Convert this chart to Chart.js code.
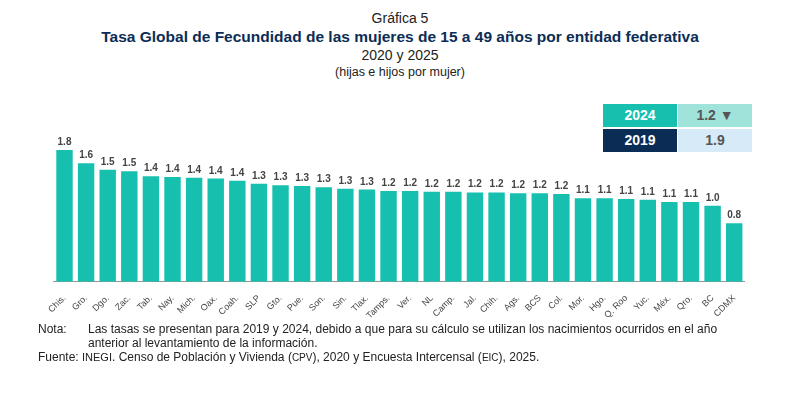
<!DOCTYPE html>
<html><head><meta charset="utf-8">
<script src="https://cdn.jsdelivr.net/npm/chart.js@4"></script>
<style>
body{margin:0;width:800px;height:400px;background:#fff;font-family:"Liberation Sans",Arial,sans-serif;position:relative;overflow:hidden}
.t{position:absolute;left:0;width:800px;text-align:center;color:#222}
#wrap{position:absolute;left:47px;top:128px;width:698px;height:196px}
.box{position:absolute;font-weight:bold;font-size:14px;text-align:center;line-height:23px;height:23px}
.note{position:absolute;font-size:12px;color:#222}
</style></head><body>
<div class="t" style="top:10px;font-size:14px">Gráfica 5</div>
<div class="t" style="top:28px;font-size:15.5px;font-weight:bold;color:#0b2d55">Tasa Global de Fecundidad de las mujeres de 15 a 49 años por entidad federativa</div>
<div class="t" style="top:47px;font-size:14px">2020 y 2025</div>
<div class="t" style="top:65px;font-size:12.5px">(hijas e hijos por mujer)</div>
<div class="box" style="left:603px;top:104px;width:74px;background:#17bfae;color:#fff">2024</div>
<div class="box" style="left:678px;top:104px;width:74px;background:#9fe3db;color:#555">1.2 ▼</div>
<div class="box" style="left:603px;top:129px;width:74px;background:#0b2d55;color:#fff">2019</div>
<div class="box" style="left:678px;top:129px;width:74px;background:#d6ebf7;color:#555">1.9</div>
<div id="wrap"><canvas id="c"></canvas></div>
<div class="note" style="left:38px;top:322px">Nota:</div>
<div class="note" style="left:88px;top:322px;width:665px;line-height:14px">Las tasas se presentan para 2019 y 2024, debido a que para su cálculo se utilizan los nacimientos ocurridos en el año anterior al levantamiento de la información.</div>
<div class="note" style="left:38px;top:350px">Fuente: <span style="font-size:11px">INEGI</span>. Censo de Población y Vivienda (<span style="font-size:10px">CPV</span>), 2020 y Encuesta Intercensal (<span style="font-size:10px">EIC</span>), 2025.</div>
<script>
const states = ["Chis.","Gro.","Dgo.","Zac.","Tab.","Nay.","Mich.","Oax.","Coah.","SLP","Gto.","Pue.","Son.","Sin.","Tlax.","Tamps.","Ver.","NL","Camp.","Jal.","Chih.","Ags.","BCS","Col.","Mor.","Hgo.","Q. Roo","Yuc.","Méx.","Qro.","BC","CDMX"];
const rates = [1.80,1.62,1.53,1.51,1.44,1.43,1.42,1.41,1.38,1.34,1.32,1.31,1.29,1.27,1.26,1.24,1.24,1.23,1.23,1.22,1.22,1.21,1.21,1.20,1.14,1.14,1.13,1.12,1.09,1.09,1.04,0.80];

const valueLabels = {
  id: "valueLabels",
  afterDatasetsDraw(chart) {
    const ctx = chart.ctx;
    ctx.save();
    ctx.font = "bold 10px 'Liberation Sans', Arial";
    ctx.fillStyle = "#444";
    ctx.textAlign = "center";
    chart.getDatasetMeta(0).data.forEach((bar, i) => {
      ctx.fillText(rates[i].toFixed(1), bar.x, bar.y - 5);
    });
    ctx.restore();
  }
};

new Chart("c", {
  type: "bar",
  data: { labels: states, datasets: [{ data: rates, backgroundColor: "#17bfae", barPercentage: 0.76, categoryPercentage: 1 }] },
  options: {
    responsive: true, maintainAspectRatio: false, animation: false,
    layout: { padding: { top: 22 } },
    plugins: { legend: { display: false }, tooltip: { enabled: false } },
    scales: {
      x: { grid: { display: false }, border: { color: "#999" },
           ticks: { color: "#444", font: { size: 9, family: "'Liberation Sans', Arial" }, maxRotation: 45, minRotation: 45, autoSkip: false } },
      y: { display: false, min: 0, max: 1.8 }
    }
  },
  plugins: [valueLabels]
});
</script>
</body></html>
